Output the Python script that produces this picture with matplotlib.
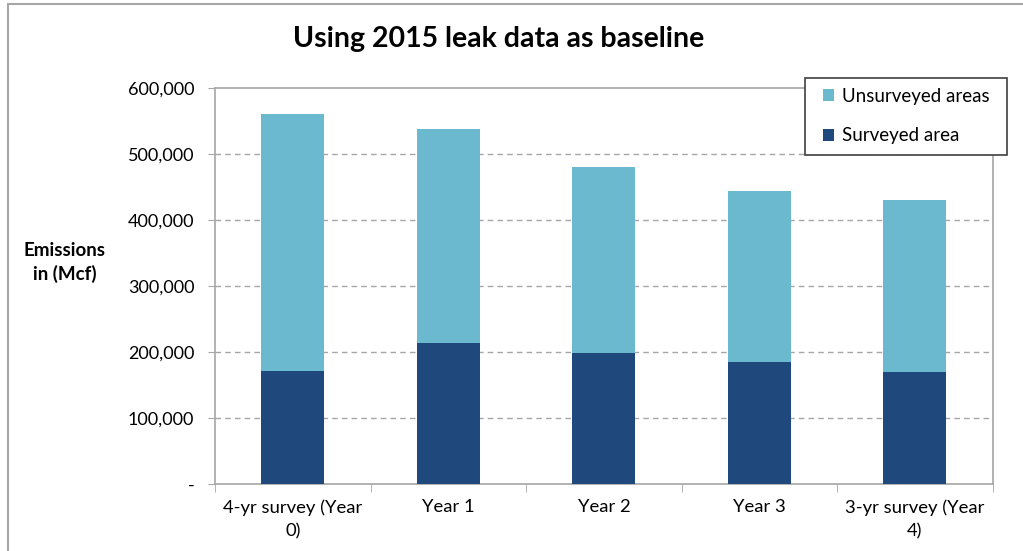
import numpy as np
import matplotlib.pyplot as plt
from matplotlib.patches import Rectangle
from matplotlib.ticker import FuncFormatter

# values (Mcf)
categories = ['4-yr survey (Year\n0)', 'Year 1', 'Year 2', 'Year 3', '3-yr survey (Year\n4)']
surveyed = [171000, 213500, 198300, 184700, 169600]
totals = [560000, 537500, 480000, 443600, 430000]
unsurveyed = [t - s for t, s in zip(totals, surveyed)]

dark = '#1F497D'
light = '#6BB9CF'
grey = '#A6A6A6'

plt.rcParams['font.family'] = ['Lato', 'DejaVu Sans']

W, H = 1023, 551
fig = plt.figure(figsize=(W / 100, H / 100), dpi=100)
ax = fig.add_axes([0.2102, 0.1216, 0.7602, 0.7187])

x = np.arange(len(categories))
ax.bar(x, surveyed, width=0.405, color=dark, label='Surveyed area', zorder=3)
ax.bar(x, unsurveyed, width=0.405, bottom=surveyed, color=light,
       label='Unsurveyed areas', zorder=3)

ax.set_xlim(-0.5, len(categories) - 0.5)
ax.set_ylim(0, 600000)
ax.set_yticks(np.arange(0, 600001, 100000))
ax.yaxis.set_major_formatter(FuncFormatter(lambda v, p: '-' if v == 0 else f'{int(v):,}'))
ax.tick_params(axis='y', labelsize=13, length=5, color=grey, pad=10)

ax.set_xticks(x)
ax.set_xticklabels(categories, fontsize=13.3, linespacing=1.55)
ax.tick_params(axis='x', length=0, pad=11)
ax.set_xticks(np.arange(-0.5, len(categories)), minor=True)
ax.tick_params(axis='x', which='minor', length=6, color=grey, direction='out')

for v in range(100000, 600000, 100000):
    ax.axhline(v, color=grey, linestyle=(0, (4, 3)), linewidth=1, zorder=1)

for s in ax.spines.values():
    s.set_color(grey)
    s.set_linewidth(1.2)

ax.text(-0.193, 0.56, 'Emissions\nin (Mcf)', transform=ax.transAxes, ha='center',
        va='center', fontsize=13.5, fontweight='bold', linespacing=1.4)

fig.text(0.487, 0.93, 'Using 2015 leak data as baseline', ha='center', va='center',
         fontsize=20.5, fontweight='bold')

# legend box, drawn separately so it can have wider side padding
fig.patches.append(Rectangle((805 / W, 1 - 155 / H), 202 / W, 77 / H,
                             transform=fig.transFigure, facecolor='white',
                             edgecolor='#404040', linewidth=1.2, zorder=4))
handles, labels = ax.get_legend_handles_labels()
leg = fig.legend(handles[::-1], labels[::-1], loc='upper left',
                 bbox_to_anchor=(823 / W, 1 - 88 / H), fontsize=13.5,
                 frameon=False, handlelength=0.6, handleheight=0.6,
                 handletextpad=0.4, labelspacing=1.2, borderpad=0,
                 borderaxespad=0)
leg.set_zorder(5)

# outer chart border (left and top visible)
fig.patches.append(Rectangle((8 / W, -0.05), 1.1, 1 - 4 / H + 0.05,
                             transform=fig.transFigure, fill=False,
                             edgecolor=grey, linewidth=1.5))

fig.savefig('out.png', dpi=100)
